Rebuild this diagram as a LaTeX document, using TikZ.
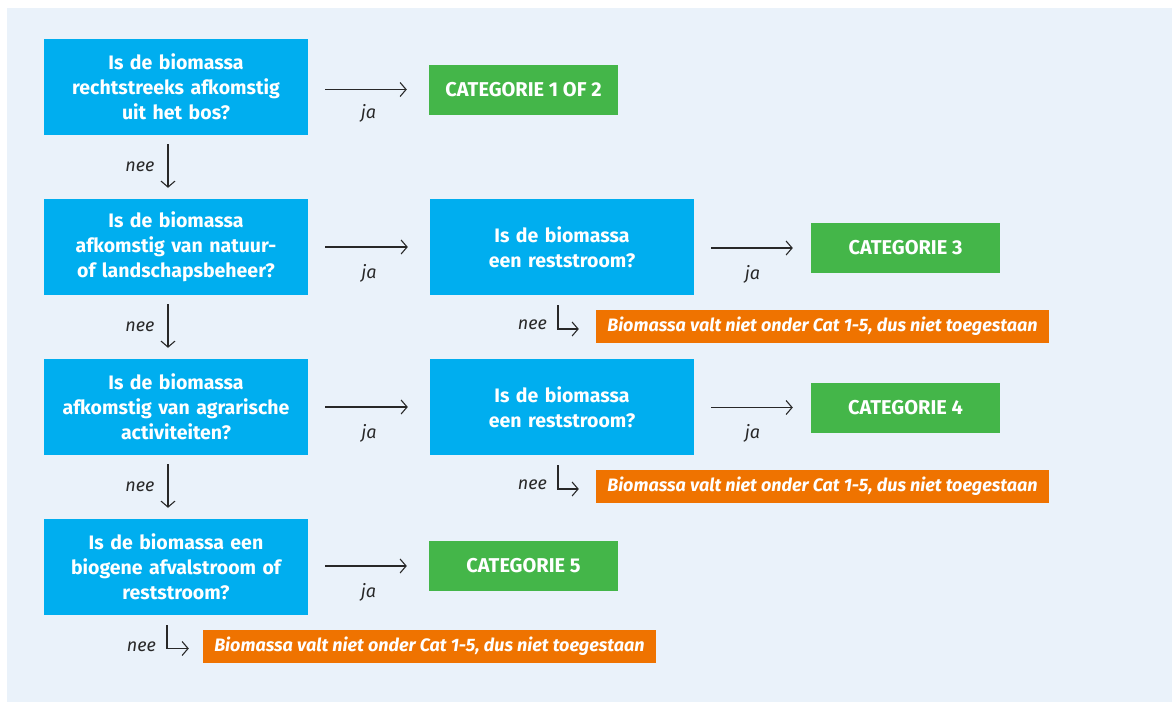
\documentclass[tikz,border=0pt]{standalone}
\usepackage{fontspec}
\setmainfont{Fira Sans}
\usetikzlibrary{arrows.meta}
\definecolor{bgc}{RGB}{234,242,250}
\definecolor{qblue}{RGB}{0,174,239}
\definecolor{cgreen}{RGB}{68,182,73}
\definecolor{rorange}{RGB}{239,115,0}
\definecolor{ink}{RGB}{40,40,40}
\tikzset{
  question/.style={fill=qblue, text=white, minimum width=264pt, minimum height=96pt,
    text width=258pt, align=center, inner sep=0pt,
    font=\fontsize{19.5}{25}\selectfont\bfseries},
  catbox/.style={fill=cgreen, text=white, minimum width=189pt, minimum height=50pt,
    inner sep=0pt, font=\fontsize{20}{22}\selectfont\bfseries},
  rejectbox/.style={fill=rorange, text=white, minimum width=453pt, minimum height=33pt,
    inner sep=0pt, font=\fontsize{18}{20}\selectfont\bfseries\itshape},
  arr/.style={draw=ink, line width=1.1pt, -{Straight Barb[length=6pt,width=14pt,line width=1.1pt]}},
  lbl/.style={text=ink, font=\fontsize{18}{20}\selectfont\itshape, inner sep=0pt},
}
\begin{document}
\begin{tikzpicture}[x=1pt,y=-1pt]
\useasboundingbox (0,0) rectangle (1172,702);
\fill[bgc] (7,8) rectangle (1172,702);

% left column
\node[question] (q1) at (176,87) {Is de biomassa\\rechtstreeks afkomstig\\uit het bos?};
\node[question] (q2) at (176,247) {Is de biomassa\\afkomstig van natuur-\\of landschapsbeheer?};
\node[question] (q3) at (176,407) {Is de biomassa\\afkomstig van agrarische\\activiteiten?};
\node[question] (q4) at (176,567) {Is de biomassa een\\biogene afvalstroom of\\reststroom?};

% middle column
\node[question] (r2) at (562,247) {Is de biomassa\\een reststroom?};
\node[question] (r3) at (562,407) {Is de biomassa\\een reststroom?};

% categories
\node[catbox] (c12) at (523.5,89.5) {CATEGORIE 1 OF 2};
\node[catbox] (c3) at (905.5,248) {CATEGORIE 3};
\node[catbox] (c4) at (905.5,407.5) {CATEGORIE 4};
\node[catbox] (c5) at (523.5,566) {CATEGORIE 5};

% rejections
\node[rejectbox] (x2) at (822.5,326.5) {Biomassa valt niet onder Cat 1-5, dus niet toegestaan};
\node[rejectbox] (x3) at (822.5,486.5) {Biomassa valt niet onder Cat 1-5, dus niet toegestaan};
\node[rejectbox] (x4) at (429.5,646.5) {Biomassa valt niet onder Cat 1-5, dus niet toegestaan};

% ja arrows
\draw[arr, shorten <=17pt, shorten >=22pt] (q1.east |- c12.west) -- node[lbl, pos=0.5, yshift=-24pt] {ja} (c12.west);
\draw[arr, shorten <=17pt, shorten >=22pt] (q2.east |- r2.west) -- node[lbl, pos=0.5, yshift=-26pt] {ja} (r2.west);
\draw[arr, shorten <=17pt, shorten >=22pt] (q3.east |- r3.west) -- node[lbl, pos=0.5, yshift=-26pt] {ja} (r3.west);
\draw[arr, shorten <=17pt, shorten >=22pt] (q4.east |- c5.west) -- node[lbl, pos=0.5, yshift=-26pt] {ja} (c5.west);
\draw[arr, shorten <=17pt, shorten >=18pt] (r2.east |- c3.west) -- node[lbl, pos=0.5, yshift=-26pt] {ja} (c3.west);
\draw[arr, shorten <=17pt, shorten >=18pt] (r3.east |- c4.west) -- node[lbl, pos=0.5, yshift=-26pt] {ja} (c4.west);

% nee arrows down
\draw[arr, shorten <=9pt, shorten >=11pt] ([xshift=-8pt]q1.south) -- node[lbl, left=13pt] {nee} ([xshift=-8pt]q2.north);
\draw[arr, shorten <=9pt, shorten >=11pt] ([xshift=-8pt]q2.south) -- node[lbl, left=13pt] {nee} ([xshift=-8pt]q3.north);
\draw[arr, shorten <=9pt, shorten >=11pt] ([xshift=-8pt]q3.south) -- node[lbl, left=13pt] {nee} ([xshift=-8pt]q4.north);

% nee corner arrows
\draw[arr] ([xshift=-4pt,yshift=-10pt]r2.south) coordinate (n2) |- ([xshift=-17pt,yshift=-2.5pt]x2.west);
\node[lbl, anchor=east] (nee2) at ([xshift=-11pt,yshift=-20pt]n2) {nee};
\draw[arr] ([xshift=-4pt,yshift=-10pt]r3.south) coordinate (n3) |- ([xshift=-17pt,yshift=-2.5pt]x3.west);
\node[lbl, anchor=east] (nee3) at ([xshift=-11pt,yshift=-20pt]n3) {nee};
\draw[arr] ([xshift=-9pt,yshift=-10pt]q4.south) coordinate (n4) |- ([xshift=-14pt,yshift=-2pt]x4.west);
\node[lbl, anchor=east] (nee4) at ([xshift=-11pt,yshift=-22pt]n4) {nee};
\end{tikzpicture}
\end{document}
